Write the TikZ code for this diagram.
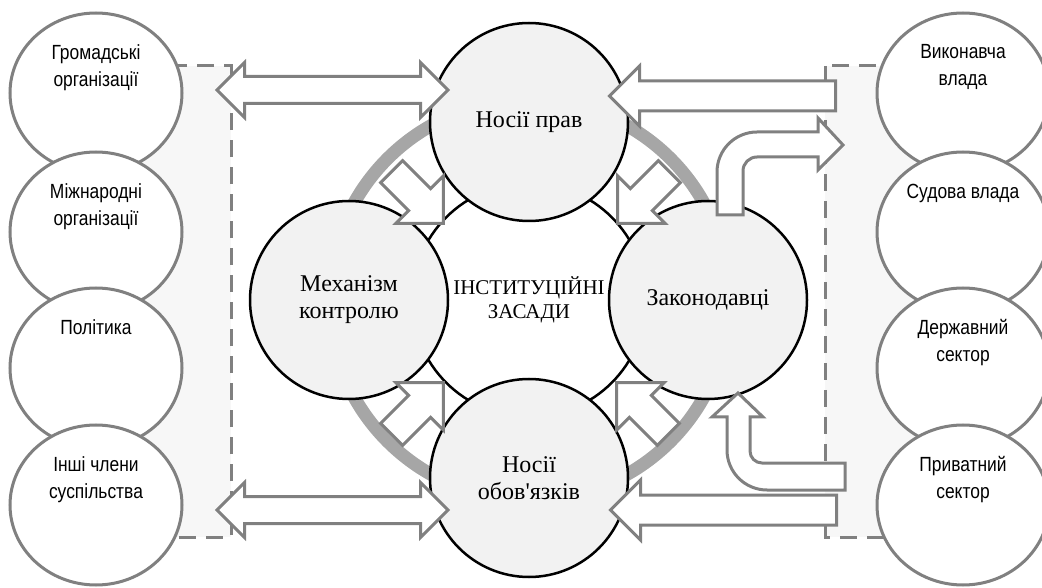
\documentclass[tikz,border=0pt]{standalone}
\usepackage{fontspec}
\setmainfont{Liberation Serif}
\newfontfamily\sansfont[FakeStretch=0.85]{Liberation Sans}
\usetikzlibrary{shapes.geometric,shapes.arrows,positioning}

\begin{document}
\begin{tikzpicture}[x=1pt,y=1pt,
    sidenode/.style={ellipse,draw=black!50,line width=3pt,fill=white,minimum width=172pt,minimum height=160pt,inner sep=0pt},
    sidetext/.style={anchor=north,align=center,inner sep=0pt,font=\sansfont\fontsize{20.5}{27}\selectfont},
    mainnode/.style={circle,draw=black,line width=2.5pt,fill=black!5,minimum size=198pt,inner sep=0pt,align=center,font=\fontsize{24}{27}\selectfont},
    blk/.style={draw=black!50,line width=3pt,fill=white,inner xsep=0pt},
    dblarrow/.style={blk,double arrow,inner ysep=12pt,double arrow head extend=14pt,minimum height=231pt},
    sglarrow/.style={blk,single arrow,inner ysep=13.5pt,single arrow head extend=15pt,minimum height=226pt},
    diagarrow/.style={blk,single arrow,inner ysep=14pt,single arrow head extend=18pt,minimum height=73pt},
    box/.style={draw=black!50,line width=3pt,fill=black!3,dash pattern=on 17pt off 10pt}]
\useasboundingbox (0,0) rectangle (1042,587);

% dashed groups
\draw[box] (110,521) rectangle (231,50);
\draw[box] (825,521) rectangle (960,50);

% left side
\node[sidenode] (gromad) at (96,494) {};
\node[sidenode] (mizhnar) at (96,355) {};
\node[sidenode] (polit) at (96,219) {};
\node[sidenode] (inshi) at (96,82) {};
\node[sidetext] (gromadt) at ([yshift=-33pt]gromad.north) {Громадські\\організації};
\node[sidetext] (mizhnart) at ([yshift=-33pt]mizhnar.north) {Міжнародні\\організації};
\node[sidetext] (politt) at ([yshift=-33pt]polit.north) {Політика};
\node[sidetext] (inshit) at ([yshift=-33pt]inshi.north) {Інші члени\\суспільства};

% right side
\node[sidenode] (vykon) at (963,494) {};
\node[sidenode] (sud) at (963,355) {};
\node[sidenode] (derzh) at (963,219) {};
\node[sidenode] (pryv) at (963,82) {};
\node[sidetext] (vykont) at ([yshift=-33pt]vykon.north) {Виконавча\\влада};
\node[sidetext] (sudt) at ([yshift=-33pt]sud.north) {Судова влада};
\node[sidetext] (derzht) at ([yshift=-33pt]derzh.north) {Державний\\сектор};
\node[sidetext] (pryvt) at ([yshift=-33pt]pryv.north) {Приватний\\сектор};

% centre
\coordinate (mid) at (529,287);
\draw[black!35,line width=13pt] (mid) circle (200);
\node[mainnode,fill=white,minimum size=234pt,font=\fontsize{21}{24}\selectfont] (inst) at (mid) {ІНСТИТУЦІЙНІ\\ЗАСАДИ};
\node[mainnode] (prav) at (529,465) {Носії прав};
\node[mainnode] (oblig) at (529,109) {Носії\\обов\textquotesingle язків};
\node[mainnode] (kontrol) at (349,287) {Механізм\\контролю};
\node[mainnode] (zakon) at (708,287) {Законодавці};

% arrows
\node[dblarrow] (a1) at (332.5,497) {};
\node[dblarrow] (a2) at (332.5,77) {};
\node[sglarrow,rotate=180] (a3) at (730,491) {};
\node[sglarrow,rotate=180] (a4) at (731,77) {};
\node[diagarrow,rotate=-45] (d1) at (412,395) {};
\node[diagarrow,rotate=-135] (d2) at (649,395) {};
\node[diagarrow,rotate=45] (d3) at (412,173) {};
\node[diagarrow,rotate=135] (d4) at (648,173) {};

\draw[blk] (717,372) -- (717,415) arc (180:90:40) -- (818,455) -- (818,469)
    -- (843,442) -- (818,417) -- (818,430) -- (757,430) arc (90:180:14) -- (743,372) -- cycle;
\draw[blk] (845,124) -- (762,124) arc (270:180:12) -- (750,170) -- (763,170)
    -- (738,194) -- (712,170) -- (727,170) -- (727,137) arc (180:270:40) -- (845,97) -- cycle;
\end{tikzpicture}
\end{document}
